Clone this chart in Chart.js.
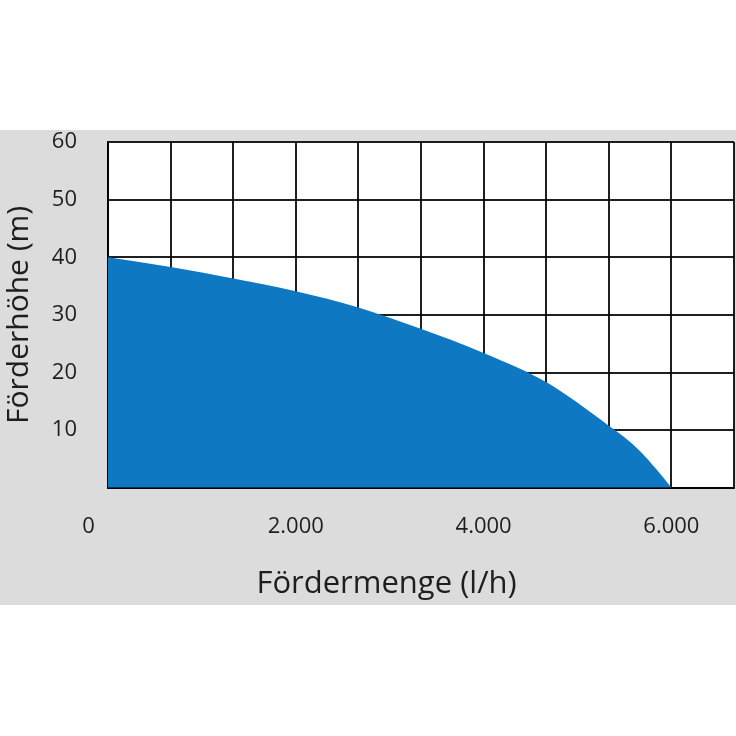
<!DOCTYPE html>
<html>
<head>
<meta charset="utf-8">
<script src="https://cdn.jsdelivr.net/npm/chart.js@4"></script>
<style>
	html, body { margin: 0; padding: 0; background: #fff; width: 736px; height: 736px; overflow: hidden; }
	#band { position: absolute; left: 0; top: 130px; width: 736px; height: 475px; background: #dcdcdc; }
</style>
</head>
<body>
<div id="band"><canvas id="curveChart"></canvas></div>

<script>
	// pump curve
	const flowValues = [0, 667, 1333, 2000, 2667, 3330, 4000, 4670, 5340, 5490, 5670, 5840, 6000];
	const headValues = [40, 38.3, 36.3, 34.1, 31.3, 27.6, 23.4, 18.3, 10.7, 8.9, 6.3, 3.2, 0];

	const flowTicks = [0, 2000, 4000, 6000];
	const flowLabels = ['0', '2.000', '4.000', '6.000'];
	const headTicks = [10, 20, 30, 40, 50, 60];

	const flowMax = 6666.67;   // 10 grid columns, 6000 sits on the 9th line
	const gridColumns = 10;

	const textColor = '#1e1e1e';
	const gridColor = 'rgba(0,0,0,0.88)';

	// keep the plot box where the original has it
	function noPadding(scale) {
		scale.paddingTop = 0;
		scale.paddingBottom = 0;
		scale.paddingLeft = 0;
		scale.paddingRight = 0;
	}

	// white plot area on the grey band
	const plotBackground = {
		id: 'plotBackground',
		beforeDraw(chart) {
			const { ctx, chartArea: a } = chart;
			ctx.save();
			ctx.fillStyle = '#ffffff';
			ctx.fillRect(a.left, a.top, a.width, a.height);
			ctx.restore();
		}
	};

	const ctx = document.getElementById('curveChart').getContext('2d');
	const curveChart = new Chart(ctx, {
		type: 'line',
		data: {
			datasets: [{
				label: 'Förderhöhe',
				data: flowValues.map((f, i) => ({ x: f, y: headValues[i] })),
				fill: 'origin',
				backgroundColor: '#0f78c2',
				borderWidth: 0,
				pointRadius: 0,
				cubicInterpolationMode: 'monotone'
			}]
		},
		options: {
			responsive: true,
			maintainAspectRatio: false,
			animation: false,
			layout: { padding: { top: 12, right: 2, left: 0, bottom: 0 } },
			plugins: {
				legend: { display: false },
				tooltip: { enabled: false },
				title: {
					display: true,
					position: 'bottom',
					text: '\u2003 Fördermenge (l/h)',
					color: textColor,
					font: { family: 'Open Sans', size: 31, weight: 'normal', lineHeight: 1.2 },
					padding: { top: 0, bottom: 2 }
				}
			},
			scales: {
				x: {
					type: 'linear',
					min: 0,
					max: flowMax,
					z: 1,
					grid: { color: gridColor, lineWidth: 2, drawTicks: false },
					border: { color: gridColor, width: 2 },
					afterBuildTicks: (scale) => {
						const ticks = [];
						for (let i = 0; i <= gridColumns; i++) ticks.push({ value: flowMax * i / gridColumns });
						scale.ticks = ticks;
					},
					afterFit: (scale) => { scale.height = 78; noPadding(scale); },
					ticks: {
						color: textColor,
						padding: 26,
						maxRotation: 0,
						autoSkip: false,
						font: { family: 'Open Sans', size: 22 },
						callback: (value) => {
							const idx = flowTicks.findIndex(t => Math.abs(t - value) < 1);
							if (idx < 0) return '';
							// the zero sits left of the plot edge in the original
							return idx === 0 ? flowLabels[idx] + '\u2003\u2002 ' : flowLabels[idx];
						}
					}
				},
				y: {
					min: 0,
					max: 60,
					z: 1,
					grid: { color: gridColor, lineWidth: 2, drawTicks: false },
					border: { color: gridColor, width: 2 },
					afterFit: (scale) => { scale.width = 108; noPadding(scale); },
					ticks: {
						stepSize: 10,
						color: textColor,
						padding: 31,
						font: { family: 'Open Sans', size: 22 },
						callback: (value) => headTicks.includes(value) ? String(value) : ''
					},
					title: {
						display: true,
						text: 'Förderhöhe (m)',
						color: textColor,
						font: { family: 'Open Sans', size: 30, lineHeight: 1.2 },
						padding: { top: 1, bottom: 0 }
					}
				}
			}
		},
		plugins: [plotBackground]
	});
</script>
</body>
</html>
